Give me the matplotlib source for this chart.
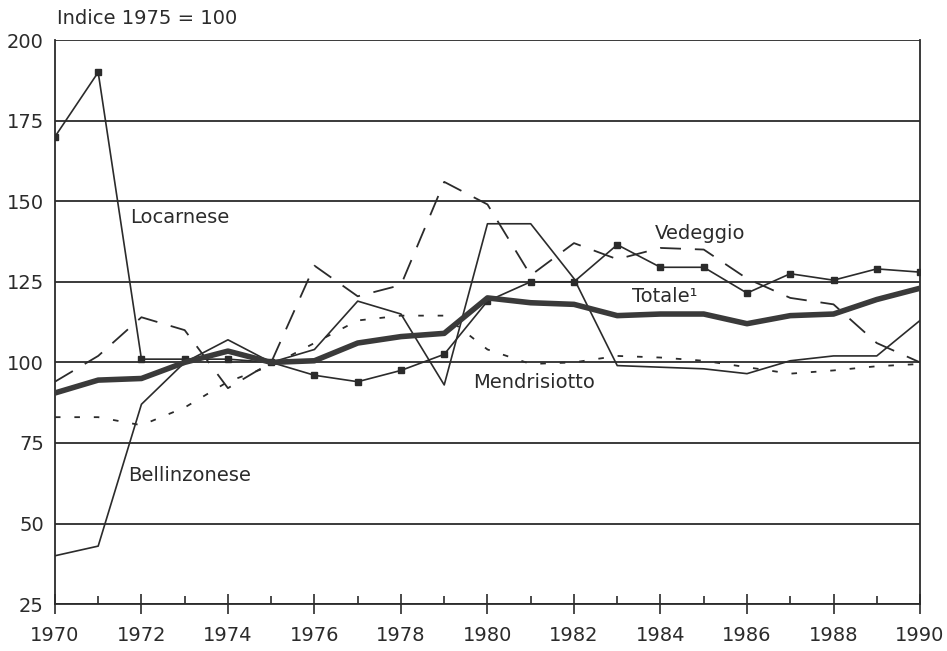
import matplotlib
matplotlib.use("Agg")
import matplotlib.pyplot as plt
from matplotlib.ticker import MultipleLocator

plt.rcParams['font.family'] = ['DejaVu Sans']
plt.rcParams['lines.scale_dashes'] = False

years = list(range(1970, 1991))
locarnese = [170, 190, 101, 101, 101, 100, 96, 94, 97.5, 102.5, 119, 125, 125, 136.5, 129.5, 129.5, 121.5, 127.5, 125.5, 129, 128]
bellinzonese = [40, 43, 87, 100, 107, 100, 104, 119, 115, 93, 143, 143, 126, 99, 98.5, 98, 96.5, 100.5, 102, 102, 113]
vedeggio = [94, 102, 114, 110, 92, 100, 130, 120.5, 124, 156, 149, 127, 137, 132, 135.5, 135, 126, 120, 118, 106, 100]
mendrisiotto = [83, 83, 80.5, 86, 94, 99, 106, 113, 114.5, 114.5, 104, 99.5, 100, 102, 101.5, 100.5, 98.5, 96.5, 97.5, 98.8, 99.5]
totale = [90.5, 94.5, 95, 100, 103.5, 100, 100.5, 106, 108, 109, 120, 118.5, 118, 114.5, 115, 115, 112, 114.5, 115, 119.5, 123]

series_labels = ["Locarnese", "Vedeggio", "Totale\u00b9", "Mendrisiotto", "Bellinzonese"]
label_pos = [(1971.73, 145), (1983.87, 140), (1983.34, 120.3), (1979.66, 93.8), (1971.69, 65)]

ink = '#2b2b2b'
fig = plt.figure(figsize=(9.47, 6.51), dpi=100)
ax = fig.add_axes([0.058, 0.072, 0.9135, 0.8665])

ax.set_xlim(1970, 1990)
ax.set_ylim(25, 200)

for v in range(25, 201, 25):
    ax.axhline(v, color=ink, lw=1.3, zorder=1)

ax.plot(years, mendrisiotto, color=ink, lw=1.3, dashes=(4, 10), zorder=2)
ax.plot(years, vedeggio, color=ink, lw=1.3, dashes=(15, 10), zorder=2)
ax.plot(years, bellinzonese, color=ink, lw=1.2, zorder=3)
ax.plot(years, locarnese, color=ink, lw=1.2, marker='s', markersize=4, zorder=3)
ax.plot(years, totale, color='#3a3a3a', lw=4, zorder=4, solid_joinstyle='round')

for (x, y), t in zip(label_pos, series_labels):
    ax.text(x, y, t, fontsize=14, color=ink, va='center', ha='left')

for s in ['left', 'right']:
    ax.spines[s].set_color(ink)
    ax.spines[s].set_linewidth(1.3)
ax.spines['top'].set_visible(False)
ax.spines['bottom'].set_color(ink)
ax.spines['bottom'].set_linewidth(1.3)

ax.xaxis.set_major_locator(MultipleLocator(2))
ax.xaxis.set_minor_locator(MultipleLocator(1))
ax.yaxis.set_major_locator(MultipleLocator(25))
ax.tick_params(axis='x', which='major', direction='inout', length=14, width=1.2, color=ink,
               labelsize=14, pad=9, labelcolor=ink)
ax.tick_params(axis='x', which='minor', direction='in', length=6, width=1.2, color=ink)
ax.tick_params(axis='y', which='major', length=0, labelsize=14, pad=8, labelcolor=ink)

fig.text(0.060, 0.972, "Indice 1975 = 100", fontsize=14, color=ink, va='center', ha='left')

fig.savefig('out.png', dpi=100, facecolor='white')
